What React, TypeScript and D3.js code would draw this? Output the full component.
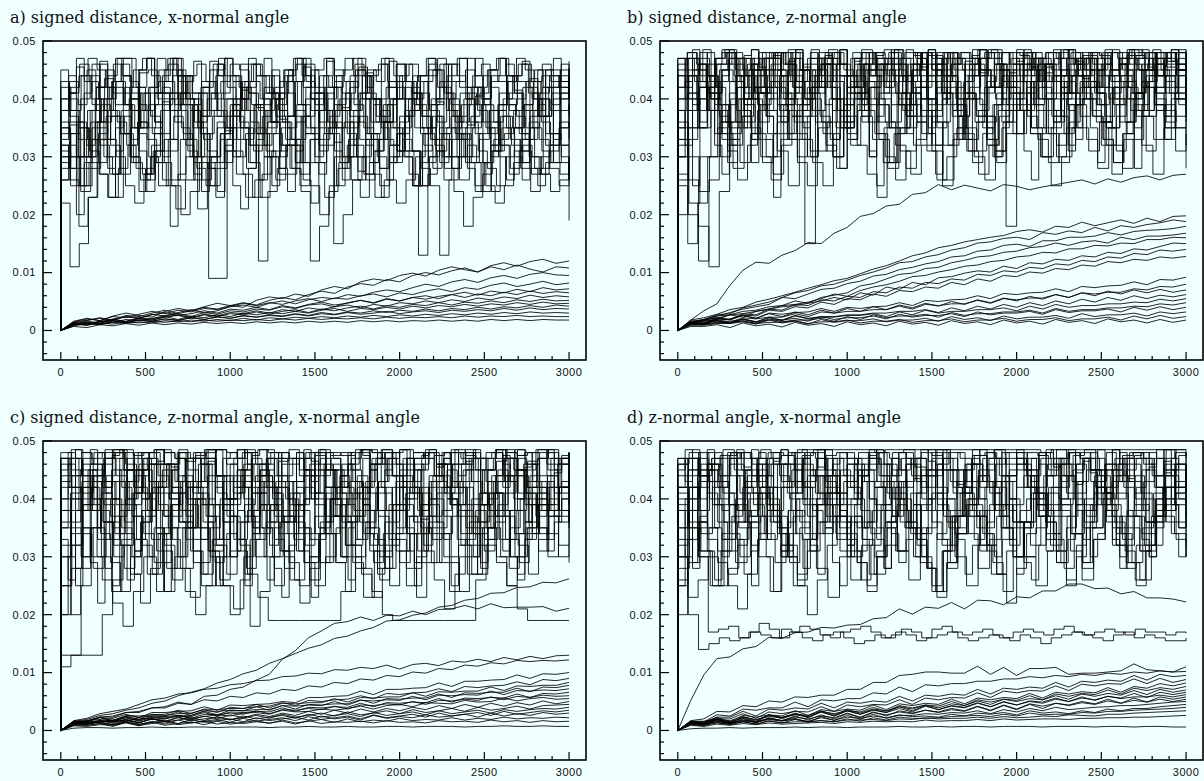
import React from 'react';
import * as d3 from 'd3';

const W = 1204;
const H = 781;
// every trace value below is in units of 0.0001
const UNIT = 0.0001;
const X_MAX = 3000;
const X_TICKS = [0, 500, 1000, 1500, 2000, 2500, 3000];
const Y_TICKS = [0, 0.01, 0.02, 0.03, 0.04, 0.05];
const Y_LABELS = ['0', '0.01', '0.02', '0.03', '0.04', '0.05'];
const TITLES = [
  'a) signed distance, x-normal angle',
  'b) signed distance, z-normal angle',
  'c) signed distance, z-normal angle, x-normal angle',
  'd) z-normal angle, x-normal angle',
];

// ---- panel a ----
const A_STEP = [
  [340,355,300,300,420,435,410,410,380,445,450,400,400,360,330,390,420,465,440,440,400,350,310,370,400,430,430,390,350,300,340,380,380,420,455,410,370,330,290,350,400,440,460,420,380,340,300,350,390,430,440,400,370,330,380,420,450,430,400],
  [300,260,180,230,330,370,370,340,290,270,320,380,410,390,330,280,250,290,340,380,420,390,340,300,270,270,330,370,410,380,350,300,260,230,290,330,390,430,400,350,320,280,340,370,410,360,310,280,250,300,350,390,350,310,290,270,300],
  [360,420,460,430,400,440,470,470,420,380,410,450,470,440,400,370,410,430,460,450,410,380,350,390,430,460,440,410,380,420,450,470,440,400,370,400,440,460,430,390,360,400,430,450,420,390,360,400,440,460,430,400,380,420,450],
  [220,110,150,230,290,330,300,250,220,270,310,290,250,200,240,290,90,90,310,270,230,260,300,340,320,280,240,120,180,240,280,320,300,270,230,260,300,330,310,280,250,130,260,300,320,290,250,220,250,290,320,300,270,240,260,300],
  [320,380,350,300,360,400,430,390,350,410,410,410,410,410,410,410,410,380,350,300,340,390,420,400,360,330,370,410,440,420,380,340,300,260,310,360,400,430,410,370,330,290,330,370,410,390,350,310,340,380,420,400,360,320,350,390],
  [290,340,400,440,420,380,340,300,350,390,430,460,430,390,350,310,280,330,380,420,440,410,370,330,290,340,380,420,450,430,390,350,310,360,400,430,410,370,330,300,350,390,420,400,360,320,280,330,370,410,440,420,380],
  [350,300,250,290,340,380,360,320,280,240,290,330,370,340,300,260,300,340,380,360,320,120,240,280,320,360,400,380,340,150,200,260,300,340,380,350,310,270,130,270,310,350,330,290,250,290,330,370,350,310,270,300,340,380,190],
  [380,410,440,470,450,420,390,420,450,470,440,410,380,410,440,460,430,400,370,400,430,460,440,410,380,350,390,420,450,470,440,410,380,410,440,460,430,400,370,400,430,450,420,390,360,390,420,450,470,440,410,380,410,440,430,400,420],
  [260,300,350,310,270,230,280,320,360,330,290,250,210,260,300,340,380,350,310,270,230,270,310,350,330,290,250,200,250,290,330,370,340,300,260,220,260,300,340,320,280,240,180,230,270,310,350,320,280,240,280,320,360,330],
  [400,370,330,380,420,450,430,390,350,380,420,450,470,440,400,360,330,370,410,440,420,380,340,380,420,450,430,390,350,310,350,390,430,460,440,400,360,320,360,400,440,470,450,410,370,330,370,410,450,430,390,350,390,430,460,440,410,380],
  [310,280,240,280,330,370,340,300,260,300,340,380,410,380,340,300,330,370,400,430,400,360,320,280,250,290,330,370,400,370,330,290,250,300,340,380,410,380,340,300,260,300,340,380,410,380,340,300,270,310,350,390],
  [430,400,360,320,360,400,430,460,430,390,350,390,430,470,440,400,360,400,440,470,440,400,360,320,360,400,440,470,440,400,360,400,440,470,440,400,360,400,430,460,430,390,350,390,430,460,440,400,360,400,440,470,440,400,430,450,420,390,410,440],
  [330,410,455,300,380,465,330,350,440,290,420,470,360,395,310,450,400,270,430,380,460,345,300,415,470,385,320,440,365,410,290,455,400,350,470,325,385,430,275,445,400,360,465,310,420,380,340,450,395,300,430,470,355,405,440,320,380,460,415,290,435,370,450,330,400,465],
  [280,360,250,330,400,300,270,380,420,340,260,310,390,440,350,300,410,280,230,350,430,380,320,260,340,400,450,370,290,330,410,360,250,300,380,440,330,280,360,420,310,250,340,400,460,380,300,350,420,290,240,330,390,430,350,280,370,410,320,260],
  [400,430,390,450,420,380,460,440,400,350,420,470,430,390,440,410,370,450,470,420,380,430,460,400,360,410,450,470,430,390,440,420,380,350,410,450,430,470,440,400,420,380,440,470,410,360,400,440,460,420,390,430,470,450,400,370,420,450,410],
  [350,250,300,380,320,270,340,400,360,300,250,330,380,310,210,290,350,400,330,280,350,310,260,320,380,340,290,230,300,360,320,270,330,390,350,300,250,310,370,330,280,340,290,240,310,370,330,290,350,400,340,290,260],
  [420,380,440,400,360,430,470,410,380,340,410,450,390,350,420,460,400,370,330,390,440,410,370,430,460,420,380,350,410,450,400,360,420,460,430,390,350,400,440,470,420,380,340,390,430,460,410,370,420,440,400],
  [300,340,280,360,390,320,270,350,410,370,310,260,330,380,300,250,340,390,350,290,230,300,360,320,270,330,380,340,290,360,400,340,280,320,370,310,250,300,350,400,340,290,330,380,320,270,310,360,330,280,250,290],
  [380,440,300,410,460,350,280,420,390,330,450,470,360,300,400,440,320,260,380,430,370,290,350,460,410,340,390,450,300,370,430,470,380,320,410,360,280,400,450,340,390,460,420,310,370,440,350,290,400,460,380,330,420,470,360,300,390,440,410,340,380,450,320,400,460,370],
  [320,280,360,250,330,380,300,230,340,400,310,270,350,420,330,260,300,380,340,280,240,320,390,350,290,330,410,360,280,240,310,370,340,270,320,390,350,300,260,330,400,350,290,340,380,310,250,300,370,330,280,350,400,340,290,320,380,350,300,260,330,390,340,290,320,360],
  [450,410,470,430,390,460,420,470,440,380,450,470,410,440,470,400,430,465,420,380,450,470,430,400,460,440,470,410,380,440,470,420,450,400,465,430,380,440,470,420,450,470,400,430,460,410,440,470,390,430,460,420,470,440,400,450,470,410,440,465,420,380,450,470,430,455],
  [260,320,200,290,350,270,230,310,370,300,240,280,340,260,180,270,330,290,240,300,360,310,250,210,280,340,300,250,310,370,320,260,220,290,350,310,260,300,360,320,270,230,290,340,300,250,290,350,310,260,300,340,280,240,290,350,300,260,310,330,280,250,290,340,300,270],
];
const A_SMOOTH = [
  [0,16,21,17,25,30,26,23,33,38,34,41,47,43,40,52,58,55,63,59,70,76,72,84,89,86,95,99,94,104,110,105,101,112,117,111,119,123,116,120],
  [0,13,17,22,18,26,24,30,35,29,34,40,37,43,48,44,52,57,53,62,68,64,75,81,78,88,84,95,100,96,103,108,101,110,105,113,106,101,110,108],
  [0,11,16,13,20,24,21,28,25,31,36,30,34,41,44,40,47,51,46,53,57,55,62,59,66,70,67,74,80,76,84,88,83,91,95,90,97,100,96,95],
  [0,15,20,17,24,22,28,33,29,35,32,38,36,42,47,43,48,45,51,55,50,56,54,60,63,58,65,62,68,72,67,74,71,78,82,76,80,85,79,82],
  [0,10,14,12,19,16,22,20,26,29,24,31,28,34,32,37,35,41,38,44,46,41,48,52,47,54,51,57,60,55,62,66,61,68,65,71,67,74,70,72],
  [0,14,18,21,17,24,21,27,31,26,29,34,30,37,35,40,36,43,39,45,49,44,47,52,48,55,51,57,54,59,62,57,63,60,66,62,68,64,67,65],
  [0,12,9,16,19,15,21,18,24,27,22,28,25,31,29,34,30,36,33,39,36,41,44,39,45,42,48,46,51,48,53,50,56,53,58,55,61,57,60,58],
  [0,11,14,10,17,15,20,18,23,26,21,27,24,29,27,32,28,33,36,31,37,34,39,42,37,43,40,45,43,48,44,49,47,51,48,53,50,54,51,52],
  [0,13,11,16,14,19,17,21,24,19,25,22,27,24,30,27,31,29,33,30,35,38,33,38,36,40,37,42,39,43,41,45,42,46,44,48,45,49,46,47],
  [0,9,13,11,15,13,18,16,20,17,22,19,24,21,26,23,27,25,29,26,31,28,32,30,34,31,35,33,37,34,38,36,40,37,41,39,43,40,44,42],
  [0,13,10,15,17,13,18,16,20,18,22,19,23,21,25,23,26,24,28,25,29,27,31,28,30,33,29,32,34,31,35,33,36,34,38,35,39,36,38,37],
  [0,8,12,10,14,12,15,13,17,15,18,16,19,17,21,18,22,20,23,21,24,22,25,23,26,24,27,25,28,26,29,27,30,28,31,29,32,30,31,30],
  [0,11,9,13,11,15,13,16,14,17,15,18,16,18,17,19,17,20,18,21,19,21,20,22,20,23,21,23,22,24,22,25,23,25,24,26,24,25,24,24],
  [0,7,5,10,8,12,9,13,10,13,11,14,12,14,12,15,13,15,13,16,14,16,14,17,15,17,15,17,16,18,16,18,16,19,17,19,17,19,18,18],
];

// ---- panel b ----
const B_STEP = [
  [350,200,120,260,380,430,470,450,410,460,480,440,400,450,470,430,390,420,460,480,450,410,370,420,460,480,440,400,440,470,480,450,410,380,430,470,450,410,440,480,460,420,390,430,470,480,440,410,450,470],
  [300,410,460,440,390,350,400,450,470,430,380,330,390,440,460,420,370,320,370,420,460,480,440,390,340,380,430,470,450,400,350,300,360,410,450,470,430,380,340,390,440,470,440,400,360,410,450,480,450,420,440],
  [420,470,440,400,460,480,450,420,470,480,460,430,470,480,470,440,470,485,460,430,470,480,470,440,460,480,470,450,470,485,480,460,440,470,480,470,440,460,480,475,450,470,485,470,450,465,480,470],
  [250,150,220,300,350,310,260,320,380,420,390,340,290,250,310,360,400,370,320,270,230,290,340,390,360,310,260,300,350,400,370,330,290,340,390,420,380,340,300,350,400,430,390,350,310,360,410,440,400,380,350,390],
  [380,440,470,430,390,340,400,450,470,440,400,360,150,380,430,460,440,400,360,410,450,470,440,400,360,320,380,430,460,440,400,180,380,430,460,480,450,410,370,420,460,480,450,410,380,420,460,480,460],
  [200,330,400,380,340,290,350,400,440,410,370,330,380,420,450,420,380,340,390,430,460,430,390,350,400,440,460,430,390,350,310,360,410,450,430,390,350,400,440,470,440,400,360,320,370,420,450,420,380,360,400,430],
  [440,400,350,410,450,430,390,340,300,360,410,450,470,440,400,360,410,450,470,440,400,370,420,460,480,450,410,370,330,380,430,460,440,400,360,410,450,470,440,400,360,410,450,470,440,400,360],
  [320,260,180,110,240,330,380,350,300,260,320,370,410,380,340,300,350,400,430,400,360,320,280,330,380,420,390,350,310,270,320,370,410,380,340,300,250,300,350,400,370,330,290,330,380,420,390,350,310,340],
  [460,480,450,420,460,480,470,440,410,450,480,460,430,400,440,470,480,450,420,460,480,470,440,410,450,480,470,440,460,480,470,450,420,460,480,475,450,430,460,480,470,440,420,450,480,470,450,470,480,470,455,480,470],
  [270,350,420,400,360,320,370,420,450,420,380,340,300,350,400,440,410,370,330,290,340,390,430,400,360,320,370,420,450,420,380,340,380,430,460,430,390,350,310,360,410,440,410,370,330,370,410,430],
  [400,450,420,380,430,470,440,400,360,400,440,470,450,410,370,330,380,430,460,440,400,360,410,450,480,450,410,370,330,290,340,390,430,460,430,390,350,400,440,470,450,410,370,420,460,480,450,410,440,460,430],
  [360,300,240,300,360,400,370,330,290,340,390,430,400,360,320,280,330,380,420,390,350,310,270,320,370,410,380,340,300,260,310,360,400,370,330,290,340,390,430,400,360,320,280,330,380,420,390,350,320],
  [470,440,400,440,470,480,450,410,440,470,480,460,420,380,420,460,480,460,420,380,420,460,480,460,430,460,480,470,440,400,440,470,480,460,420,450,480,470,440,410,450,480,470,450,420,450,480,470,450,460,480,470,450,470],
  [330,380,430,410,370,330,290,340,390,430,410,370,330,290,250,300,350,400,380,340,300,260,310,360,400,440,410,370,330,380,420,450,420,380,340,300,350,400,440,410,370,330,290,340,390,430,460,430,400,280],
  [380,470,430,485,400,450,480,360,440,470,410,480,450,390,470,430,485,420,460,350,440,480,400,470,450,420,485,380,460,440,475,410,480,430,370,460,485,420,450,400,470,440,480,390,460,430,485,410,470,450,420,480,440,460,400,475,430,485,450,410,470,440],
  [300,410,350,440,380,320,420,460,390,340,450,400,300,370,430,470,380,330,410,450,360,290,390,440,470,400,350,420,380,310,360,430,460,390,340,410,450,380,320,400,440,470,410,350,390,430,370,310,380,440,460,400],
  [450,480,460,420,470,485,440,400,460,480,470,430,480,450,410,470,485,460,420,450,480,440,470,485,430,460,480,450,410,460,480,470,440,485,460,420,470,480,450,430,470,485,460,440,480,470,430,460,485,450,470,440,480,460,485],
  [260,350,420,380,300,360,440,400,330,270,340,410,450,380,310,360,420,460,390,330,290,350,410,380,320,250,330,400,440,370,310,380,430,460,400,340,290,360,420,380,320,270,340,400,450,390,330,370,420],
  [400,440,380,460,420,360,440,470,410,380,450,480,420,370,430,460,400,350,420,470,440,390,350,410,460,480,430,390,440,470,410,360,420,460,430,380,450,480,420,370,410,450,470,430,390,440,470,420,380,430,460,480,440,400],
  [330,220,300,380,340,280,360,420,380,310,250,330,400,360,300,390,440,400,340,280,350,410,370,310,260,340,410,380,320,390,440,410,350,300,370,430,390,330,280,350,420,380,320,270,350,410,390],
  [470,420,485,450,380,460,480,430,470,400,485,455,420,475,440,485,390,460,480,430,470,450,485,410,465,480,440,470,420,485,460,400,475,450,485,430,470,480,410,460,485,445,470,420,480,460,485,430,470,400,455,480,440,485,465,420,475,450,480,430,470,485,410,460,480,440,470,485,450,470],
  [350,430,390,460,410,340,440,470,380,420,330,450,400,470,360,430,480,390,310,420,460,380,440,350,470,410,300,430,460,390,440,370,480,420,350,450,400,470,330,430,460,390,420,480,360,440,400,470,350,420,460,380,440,310,410,470,430,390,460,350,440,480,400,430,370,460,420,480,390,440],
  [420,470,450,480,440,470,485,460,430,475,485,450,470,480,440,465,485,455,430,470,480,460,485,440,470,480,450,475,485,460,430,470,480,455,485,440,470,480,460,430,475,485,450,470,480,445,465,485,455,470,480,440,470,485,460,475,480,450,470,485,460,440,475,485,455,470,480,465,485,470],
  [300,380,250,350,420,320,270,390,440,350,290,410,370,230,330,400,450,360,300,380,430,340,280,360,420,390,310,250,350,410,450,380,320,400,340,270,360,430,390,330,400,450,370,300,350,420,380,310,260,340,410,440,370,320,390,430,350,290,360,420,400,340,280,370,430,390,330,400,440,380],
  [440,400,470,430,480,410,450,485,420,390,460,480,440,470,400,450,485,430,460,410,475,440,485,400,460,430,480,450,410,470,440,485,420,460,390,475,450,480,420,465,440,485,410,470,450,430,480,460,400,470,445,485,420,460,480,435,470,410,485,450,430,475,460,420,480,440,470,485,450,460],
  [380,320,400,360,440,390,330,410,460,380,340,420,370,300,390,440,400,350,420,470,390,330,380,440,410,360,300,370,430,460,390,340,410,450,380,320,400,440,370,430,470,410,350,390,440,400,340,380,430,460,400,360,420,380,330,400,450,410,360,420,460,400,350,390,440,410,370,420,450,400],
];
const B_SMOOTH = [
  [0,18,34,46,78,104,118,116,130,138,152,150,168,178,197,202,215,218,235,238,252,243,251,246,241,252,249,243,248,252,256,260,253,262,256,264,267,260,268,270],
  [0,18,22,28,36,40,49,54,60,66,73,79,86,90,98,106,112,120,129,134,143,147,153,157,161,164,171,174,170,180,178,187,181,186,191,185,194,188,197,198],
  [0,14,19,27,29,39,44,49,57,65,69,77,80,87,95,101,108,117,119,127,131,139,143,151,153,159,161,157,169,166,172,169,178,172,181,178,183,186,191,188],
  [0,12,17,25,31,37,41,45,57,55,63,71,73,81,85,94,97,105,109,115,119,127,129,137,139,147,149,145,155,155,161,161,163,169,165,171,173,174,176,180],
  [0,16,19,25,27,33,35,41,43,51,47,57,61,65,77,81,89,97,99,107,109,117,121,127,129,135,137,143,145,151,147,153,155,151,161,157,163,163,165,168],
  [0,13,17,19,27,29,33,37,43,45,49,55,63,59,69,75,79,85,93,95,101,105,111,113,119,121,127,129,135,134,141,141,147,146,151,150,157,157,161,160],
  [0,11,19,21,27,23,33,37,41,43,47,51,57,53,65,61,75,71,83,79,91,93,99,103,101,111,107,117,115,123,121,129,127,135,133,141,139,145,151,150],
  [0,11,13,21,19,29,27,37,35,45,43,53,51,59,57,67,65,75,73,83,81,89,87,97,95,103,101,109,107,115,113,121,119,127,125,133,131,139,137,140],
  [0,13,11,21,19,27,25,35,33,41,39,49,45,55,53,63,59,69,67,75,73,83,79,89,85,95,93,101,99,107,105,113,111,119,117,123,121,127,125,128],
  [0,14,16,18,20,26,21,30,28,31,32,38,33,40,38,41,42,48,43,52,50,53,54,60,55,64,62,65,66,72,67,76,74,77,78,84,79,88,87,92],
  [0,12,12,19,14,22,20,23,23,29,24,32,30,33,33,36,36,42,37,45,43,46,46,52,47,55,53,56,56,62,57,65,63,66,66,72,70,76,75,80],
  [0,16,17,23,18,26,21,29,24,32,27,35,30,38,33,41,36,44,39,47,42,50,45,53,48,56,51,59,54,62,57,65,60,68,63,70,65,71,66,70],
  [0,10,11,17,12,20,15,23,18,26,21,24,24,27,27,30,30,33,33,36,31,39,34,42,37,45,40,48,43,51,46,54,49,57,52,60,55,61,58,62],
  [0,13,13,16,16,19,14,22,17,25,20,23,23,26,26,29,24,32,27,35,30,33,33,36,36,39,34,42,37,45,40,43,43,46,46,49,48,54,51,55],
  [0,11,11,14,14,17,12,20,15,18,18,21,16,24,19,27,22,25,25,28,23,31,26,29,29,32,32,35,30,38,33,36,36,39,39,42,41,46,44,48],
  [0,15,14,17,12,20,15,18,18,21,16,24,19,22,22,25,20,28,23,26,26,29,24,32,27,30,30,33,28,36,31,34,34,37,32,40,35,41,36,40],
  [0,9,9,12,12,15,11,18,13,16,11,19,14,17,17,20,15,18,18,21,16,24,19,22,17,25,20,23,23,26,21,29,24,27,27,30,25,32,29,32],
  [0,12,10,13,13,16,12,14,14,17,12,15,15,18,13,16,16,19,14,17,17,20,15,18,18,21,16,19,19,22,17,20,20,23,18,25,20,26,21,24],
  [0,7,7,10,5,13,8,11,6,14,9,12,7,15,10,13,8,16,11,14,9,17,12,15,10,18,13,16,11,19,14,17,12,20,15,18,13,19,14,18],
];

// ---- panel c ----
const C_STEP = [
  [430,470,440,400,460,480,450,420,470,485,460,430,470,480,470,440,470,485,460,430,470,480,470,440,460,480,470,450,470,485,480,460,440,470,480,470,440,460,480,475,450,470,485,470,450,465,480,470,460,480],
  [110,130,250,380,430,400,350,300,360,420,450,410,360,310,270,330,390,430,400,350,300,250,310,370,420,390,340,290,240,300,360,410,380,330,280,230,290,350,400,370,320,270,330,390,440,410,360,310,370,420,390],
  [380,440,470,430,390,340,400,450,470,440,400,360,420,460,430,380,330,390,440,470,440,400,350,300,360,420,460,430,380,330,280,340,400,450,480,440,390,340,400,450,470,430,380,330,390,440,470,440],
  [350,200,280,350,400,370,320,270,220,280,340,390,430,400,350,300,250,200,260,330,390,360,310,260,220,280,340,400,440,410,360,310,260,320,380,420,390,340,290,240,300,360,410,380,330,280,340,400,430,400,360,390],
  [460,420,380,430,470,485,450,410,370,420,460,480,450,410,370,330,390,440,470,440,400,360,410,450,480,450,410,370,330,380,430,470,485,450,410,370,420,460,480,450,410,370,330,380,430,470,450,410,440],
  [300,360,420,390,340,290,240,300,360,410,380,330,280,230,290,350,400,370,320,180,240,300,360,410,380,330,290,340,390,430,400,350,300,250,310,370,420,390,340,290,240,300,360,410,380,330,290,340,390,420,380,350],
  [480,450,410,440,470,480,460,420,380,420,460,480,470,430,390,430,470,485,460,420,380,340,390,440,470,450,410,370,420,460,480,460,420,380,420,460,480,470,430,390,430,470,485,460,420,380,420,460],
  [130,130,130,130,200,260,320,370,340,290,240,300,350,400,370,320,270,330,380,420,390,340,290,250,300,350,400,370,320,270,230,280,340,390,360,310,260,210,270,330,380,350,300,250,300,350,400,370,320,290],
  [400,350,300,350,410,450,420,370,320,270,330,390,440,410,360,310,360,420,460,430,380,330,280,340,400,450,420,370,320,370,430,470,440,390,340,290,350,410,450,420,370,320,370,430,470,440,390,340,380,420,450],
  [250,320,390,440,470,440,400,450,480,460,420,380,430,470,485,460,420,380,340,390,440,470,450,410,370,420,460,480,460,420,380,430,470,485,460,420,380,340,390,440,470,450,410,370,420,460,480],
  [360,410,450,420,380,330,380,430,460,430,390,350,300,350,400,440,410,370,330,280,330,380,430,400,360,320,370,420,450,420,380,340,290,340,390,440,410,370,330,380,430,460,430,390,350,300,350,400,440,410,380,420,450],
  [470,485,480,470,480,485,480,475,480,485,480,470,465,475,480,485,480,470,480,485,480,470,460,470,480,485,480,475,480,485,480,470,480,485,480,470,475,480,485,480,470,480,485,480,475,480,485,480,470,480],
  [200,280,340,300,260,220,180,240,300,350,320,280,240,200,250,300,340,310,270,230,190,190,190,190,190,190,190,240,300,280,240,200,190,190,190,190,190,190,190,190,260,320,290,250,210,190,190,190,190,190],
  [320,380,430,400,360,320,280,330,380,430,460,430,390,350,310,260,310,360,410,440,410,370,330,290,250,300,350,400,440,410,370,330,290,340,390,430,460,430,390,350,310,360,410,450,420,380,340,300,350],
  [420,470,380,450,300,440,480,360,410,470,330,460,400,485,350,430,470,290,440,410,480,370,450,320,470,430,390,480,340,460,420,300,450,485,380,430,470,350,410,460,320,440,480,390,430,470,360,450,410,485,340,460,430,380,470,420,480],
  [250,340,420,380,300,240,330,410,450,380,310,260,350,420,390,320,250,210,300,380,430,370,300,260,340,410,450,390,320,280,350,420,380,310,250,300,370,430,400,330,270,340,400,450,380,320,270,330,390,420,360],
  [470,440,480,460,420,470,485,450,410,460,480,470,430,470,485,440,400,450,480,460,420,465,485,450,410,440,475,480,450,420,470,485,460,430,470,480,440,410,460,485,470,430,465,480,450,420,470,485,460,440],
  [380,320,400,450,360,300,380,440,400,340,280,350,420,460,390,330,400,450,410,350,300,370,430,470,400,340,290,360,420,380,320,390,450,410,350,290,340,410,450,390,330,380,440,470,410,350,300,370,420],
  [300,400,350,280,360,430,390,330,270,340,410,380,310,250,330,400,440,370,300,360,420,380,310,260,340,400,360,290,230,310,380,430,370,310,360,420,390,320,270,350,410,370,300,350,410,440,380,320],
  [440,400,460,480,430,390,450,480,460,410,370,430,470,485,440,400,360,420,460,480,430,390,440,475,450,400,360,410,460,485,440,400,450,480,460,420,380,430,470,480,440,400,450,485,460,420,440],
  [470,420,485,380,460,440,485,350,470,430,480,400,460,485,370,450,480,420,470,330,460,485,440,400,470,480,350,450,485,420,460,390,480,470,430,485,360,460,440,480,410,470,485,380,450,480,420,470,340,460,485,430,470,400,480,460,485,390,450,480,420,470,485,360,460,440,480,410,470,480],
  [330,260,380,300,420,350,280,400,450,340,270,380,430,310,240,350,410,370,290,330,400,440,360,300,380,250,340,410,450,380,310,360,420,290,230,330,400,370,300,350,430,390,320,270,360,420,380,310,250,340,400,440,370,300,390,420,340,280,350,410,380,300,260,360,420,390,330,380,430,390],
  [450,480,470,440,485,460,420,475,485,450,470,480,430,465,485,455,410,470,480,460,485,440,470,480,450,420,475,485,460,440,480,470,430,485,465,450,480,470,420,460,485,475,450,470,480,440,485,460,430,475,480,455,470,485,440,465,480,470,450,485,460,430,475,480,460,470,485,450,475,480],
  [200,300,250,350,290,220,330,400,340,260,310,380,300,240,350,420,360,280,330,390,310,250,300,370,330,270,360,410,350,280,230,320,390,350,290,340,410,370,300,260,330,390,340,280,310,380,420,350,290,340,400,360,300,250,320,380,340,290,350,410,370,300,270,330,390,350,310,360,400,350],
  [400,460,420,380,450,480,410,360,430,470,390,440,480,420,370,450,470,400,350,420,465,440,390,460,485,430,380,440,470,410,360,430,480,450,400,460,420,370,440,475,430,390,450,480,410,380,440,470,420,365,430,460,480,430,390,450,470,410,380,440,475,430,400,455,480,420,390,445,470,430],
  [350,420,280,390,440,330,400,250,370,430,310,400,460,350,290,380,440,330,400,270,360,420,380,300,410,450,340,390,260,350,420,370,310,400,440,350,290,370,430,390,320,400,460,380,300,360,420,340,280,380,440,400,330,370,420,350,300,390,430,370,310,380,440,390,340,400,430,370,400,420],
];
const C_SMOOTH = [
  [0,16,19,26,29,35,39,47,51,60,66,72,82,88,98,104,116,124,133,142,148,159,163,172,178,189,191,199,203,213,216,225,228,237,238,247,248,256,255,262],
  [0,14,17,23,25,31,33,39,41,49,45,59,61,71,75,87,97,123,138,160,172,185,188,196,190,199,198,206,200,209,210,216,210,219,212,213,213,214,206,211],
  [0,17,21,29,33,37,45,53,56,63,65,71,73,79,81,86,87,93,94,99,98,105,104,109,107,113,106,114,116,112,120,118,123,119,126,122,128,124,129,130],
  [0,13,15,23,23,31,31,39,39,47,45,53,51,59,57,65,63,71,69,77,75,83,81,89,87,95,93,101,99,107,105,113,111,117,115,121,119,121,120,122],
  [0,15,17,19,21,28,22,31,31,33,34,41,35,44,43,45,46,50,48,57,57,59,60,68,62,71,71,73,74,82,76,85,85,87,88,96,90,98,97,100],
  [0,12,14,16,18,24,19,28,26,29,30,36,31,40,38,41,42,48,43,52,50,53,54,60,55,64,62,65,66,72,67,76,74,77,78,84,79,88,86,90],
  [0,16,16,23,17,26,25,27,28,35,29,37,36,38,38,45,39,47,46,48,48,55,49,57,56,58,58,65,59,67,66,68,68,75,69,77,76,78,78,83],
  [0,11,13,15,16,23,17,25,24,26,26,33,27,35,34,36,36,43,37,45,44,46,46,53,47,55,54,56,56,63,57,65,64,66,66,73,67,75,74,78],
  [0,14,15,22,16,24,23,25,25,32,26,34,33,35,34,41,35,43,42,44,43,50,44,52,51,53,52,59,53,61,60,62,61,68,62,69,68,70,69,72],
  [0,13,12,15,15,22,16,23,22,24,24,31,25,32,31,33,32,39,33,40,39,41,40,47,41,48,47,49,48,55,49,56,55,57,56,63,57,64,63,66],
  [0,10,13,18,12,20,19,22,20,26,21,28,27,30,28,34,29,36,35,38,36,42,37,44,43,46,44,50,45,52,51,54,52,58,53,59,57,61,59,60],
  [0,15,14,16,18,15,22,19,20,26,21,24,27,25,30,31,28,35,32,33,37,35,38,42,37,43,45,41,48,47,46,52,49,50,56,51,55,57,54,55],
  [0,12,10,17,14,19,14,21,16,23,18,25,20,27,22,28,24,30,26,33,28,35,30,37,32,38,34,40,36,43,38,45,40,47,42,48,44,51,46,50],
  [0,11,12,15,10,18,13,20,15,18,22,17,24,19,22,26,21,28,23,26,30,25,32,27,30,34,29,36,31,34,38,33,40,35,38,42,37,43,44,45],
  [0,14,13,16,15,18,13,20,15,22,17,20,23,18,25,20,23,26,21,28,23,26,29,24,31,26,29,32,27,34,29,32,35,30,36,33,36,38,37,40],
  [0,9,9,12,10,15,10,16,11,18,13,16,19,14,21,16,19,22,17,24,19,22,25,20,27,22,25,28,23,30,25,28,31,26,33,28,31,34,32,35],
  [0,12,11,14,9,16,11,14,17,12,19,14,17,20,15,22,17,20,23,18,25,20,23,18,26,21,24,22,27,23,25,28,23,30,25,29,26,31,28,30],
  [0,8,7,10,9,13,8,14,9,12,15,10,16,11,14,17,12,18,13,16,19,14,20,15,18,16,21,17,19,18,22,18,21,19,23,20,22,21,23,22],
  [0,10,9,12,7,14,9,12,15,10,13,16,11,14,12,15,13,16,11,17,12,15,14,16,13,17,14,15,13,17,15,16,14,18,15,17,14,17,15,16],
  [0,4,5,5,4,5,5,6,5,5,6,6,5,6,6,6,5,6,6,7,6,6,7,6,6,7,7,6,7,7,7,6,7,7,8,7,7,8,7,7],
];

// ---- panel d ----
const D_STEP = [
  [420,450,480,460,440,470,480,470,485,470,475,480,485,485,485,485,485,485,485,480,485,485,485,485,485,485,485,485,485,485,485,485,485,485,485,480,485,485,485,485,485,485,485,485,485,485,485,485,485,485],
  [300,200,140,150,160,155,160,170,165,160,175,170,160,155,165,170,160,150,155,165,160,170,165,155,160,165,170,160,155,160,165,160,155,165,160,150,160,165,170,165,160,155,165,170,160,165,160,155,155,160],
  [250,420,300,170,175,180,160,170,185,175,160,170,180,175,165,160,170,175,180,170,160,165,175,170,160,175,180,170,165,170,175,165,160,170,175,170,165,175,180,170,165,170,175,170,165,175,170,170,165,170,168],
  [380,440,470,430,390,340,300,360,420,460,430,380,330,390,440,470,440,400,350,300,360,420,460,430,380,330,280,340,400,450,420,370,320,380,440,470,440,390,340,290,350,410,450,420,370,320,380,440,460,430],
  [300,230,260,300,250,280,330,380,420,390,340,290,350,400,440,410,360,310,260,320,380,430,400,350,300,250,310,370,420,390,340,290,240,300,360,410,380,330,280,340,400,440,410,360,310,260,320,380,420,400,360],
  [460,420,380,430,470,480,450,410,370,420,460,480,450,410,370,330,390,440,470,440,400,360,410,450,480,450,410,370,330,380,430,470,480,450,410,370,420,460,480,450,410,370,330,380,430,470,450,410,440],
  [200,290,360,330,290,250,210,270,330,380,350,300,250,200,260,320,370,340,290,240,300,360,410,380,330,280,230,290,350,400,370,320,270,220,280,340,390,360,310,260,320,380,420,390,340,290,250,310,370,400,360,330],
  [440,470,440,400,440,470,480,460,420,380,420,460,480,470,430,390,430,470,480,460,420,380,340,390,440,470,450,410,370,420,460,480,460,420,380,420,460,480,470,430,390,430,470,480,460,420,380,420,460],
  [350,400,440,410,360,310,360,410,450,420,370,320,270,330,390,440,410,360,310,360,420,460,430,380,330,280,340,400,450,420,370,320,370,430,470,440,390,340,290,350,410,450,420,370,320,370,420,450,420,380,410,440],
  [410,360,310,250,310,370,420,390,340,290,340,400,440,410,360,310,260,320,380,430,400,350,300,350,410,450,420,370,320,270,330,390,440,410,360,310,370,430,470,440,390,340,290,350,410,450,420,370],
  [320,380,430,460,430,390,350,400,440,470,440,400,360,310,360,410,450,420,380,340,390,440,470,440,400,360,320,370,420,460,430,390,350,300,350,400,440,470,440,400,360,410,450,470,440,400,360,400,440,460,430],
  [470,450,420,450,475,480,470,440,460,480,475,450,420,450,475,480,470,440,460,480,470,450,470,480,475,450,420,450,475,480,470,440,460,480,475,450,470,480,470,450,420,450,475,480,470,440,460,480,470],
  [260,330,380,350,310,270,320,370,410,380,340,300,260,310,360,400,370,330,290,250,300,350,390,360,320,280,240,290,340,380,350,310,270,310,360,400,370,330,290,250,300,350,390,360,320,280,320,360,390,360,330,300],
  [390,350,300,350,400,440,410,370,330,380,420,450,420,380,340,390,430,460,430,390,350,310,360,410,450,420,380,340,390,440,470,440,400,360,320,370,420,460,430,390,350,400,440,470,440,400,360,400,430,410],
  [400,470,350,450,420,480,380,440,470,330,460,410,485,370,440,470,400,460,350,430,480,410,450,380,470,440,485,360,430,460,400,480,420,350,450,470,390,440,485,410,460,370,430,480,400,450,470,360,440,485,420,460],
  [300,380,340,420,360,290,350,410,380,320,250,330,400,440,370,300,360,420,380,310,260,340,410,370,300,250,320,390,430,360,300,350,410,380,310,260,330,400,440,370,310,360,420,390,320],
  [460,480,440,470,485,450,420,470,480,460,430,475,485,450,410,460,480,470,440,480,485,455,420,460,480,470,430,470,485,460,420,450,480,470,440,475,485,450,420,460,480,470,440,470,485,460],
  [350,420,460,390,330,400,450,420,360,300,370,430,470,410,350,400,450,420,360,310,380,440,470,400,340,390,440,410,350,300,360,420,460,400,340,380,430,460,410,350,310,370,420,450,390],
  [420,380,450,470,410,360,430,460,400,350,410,460,440,390,340,400,450,470,420,370,430,470,440,390,350,410,460,430,380,440,470,420,370,320,390,450,470,420,380,430,460,410,370,420,460,440],
  [280,350,310,250,330,390,360,300,240,310,380,340,280,230,300,370,330,270,320,380,350,290,240,310,370,340,280,330,390,360,300,250,310,370,340,280,330,380,350,290,260,320,370,340,300],
  [470,430,485,400,460,480,420,470,380,450,485,430,470,360,460,480,410,470,440,485,390,460,480,420,470,350,450,485,430,470,400,480,460,420,485,380,470,450,480,410,460,485,430,470,370,450,480,420,470,400,485,460,430,480,390,470,450,485,410,460,480,430,470,380,455,485,440,470,420,480],
  [330,400,280,370,430,350,300,390,440,360,250,340,410,380,310,360,430,390,320,270,350,420,380,300,360,440,400,330,280,370,430,350,300,380,450,400,330,290,370,420,380,310,360,430,390,330,270,350,410,370,310,380,440,400,340,290,360,420,380,320,370,430,390,330,300,370,420,390,350,400],
  [450,485,470,440,480,460,430,475,485,455,470,480,440,465,485,460,420,470,480,455,485,440,470,480,450,430,475,485,460,440,480,470,435,485,465,450,480,470,425,460,485,475,450,470,480,440,485,460,430,475,480,455,470,485,445,465,480,470,450,485,460,435,475,480,460,470,485,450,475,480],
  [380,300,420,360,450,390,330,410,460,380,320,400,440,370,300,380,430,470,390,340,410,450,380,320,390,440,400,350,280,370,430,460,390,340,400,450,380,320,370,430,470,400,350,410,440,380,300,360,420,460,390,340,400,440,380,330,390,450,410,350,300,380,430,390,340,400,445,390,350,410],
  [420,470,400,450,485,430,380,460,480,420,470,440,390,460,485,430,470,400,450,480,420,370,440,470,410,460,485,430,390,450,480,420,470,440,400,460,485,430,380,450,475,420,460,485,440,400,470,450,420,480,440,390,460,480,425,470,445,400,460,485,430,470,410,450,480,420,465,440,400,460],
  [250,330,290,360,310,260,340,390,330,270,310,370,300,240,320,380,340,280,330,390,350,290,250,320,370,330,270,310,380,340,290,330,390,350,280,240,310,370,330,270,320,380,340,300,350,400,350,290,260,320,380,340,290,330,390,350,300,340,380,330,280,320,370,340,300,350,390,340,300,330],
];
const D_SMOOTH = [
  [0,52,96,124,127,141,145,161,159,169,170,178,177,182,183,193,195,210,201,213,211,221,210,225,224,217,231,229,241,241,253,253,245,246,236,240,229,229,227,222],
  [0,17,20,33,32,43,41,51,49,58,57,61,61,71,71,83,83,95,97,101,101,99,99,111,97,109,95,107,107,109,97,99,99,101,103,115,105,103,101,110],
  [0,15,15,27,25,37,35,39,39,49,41,53,51,55,55,65,63,75,67,79,77,81,81,85,85,89,89,93,91,95,93,97,95,99,97,101,99,103,101,102],
  [0,13,13,23,23,33,25,37,35,39,37,47,39,49,47,51,49,59,51,61,59,63,61,71,63,73,71,75,73,83,75,85,83,87,85,95,87,97,93,95],
  [0,16,16,20,20,29,21,32,29,33,32,41,33,44,41,45,44,53,45,56,53,57,56,65,57,68,65,69,68,77,69,80,77,81,80,89,81,90,83,88],
  [0,14,14,23,15,26,23,27,25,34,26,36,33,37,35,44,36,46,43,47,45,54,46,56,53,57,55,64,56,66,63,67,65,74,66,76,73,81,77,82],
  [0,12,11,20,12,23,19,24,22,30,23,33,29,34,32,40,33,43,39,44,42,50,43,53,49,54,52,60,53,63,59,64,62,70,63,73,69,74,71,76],
  [0,15,13,19,17,24,18,27,23,28,26,34,27,36,30,37,34,41,37,44,39,46,43,51,45,54,50,55,53,60,54,63,59,64,61,69,62,71,66,70],
  [0,13,12,21,13,23,16,26,22,27,24,32,25,34,28,35,31,38,32,42,36,43,40,48,41,50,44,51,49,56,50,58,52,59,56,64,57,66,62,66],
  [0,16,14,19,15,21,15,27,20,29,22,32,25,34,28,36,31,41,34,43,36,42,39,47,41,49,44,50,47,54,50,56,53,59,55,58,58,61,58,62],
  [0,11,9,18,11,20,13,22,17,23,20,25,22,30,23,32,25,34,30,35,32,38,34,42,35,44,37,46,42,47,44,50,46,54,47,56,49,58,54,58],
  [0,14,11,16,13,18,15,20,17,25,18,27,20,29,22,31,27,32,29,35,31,36,33,41,34,43,36,45,38,47,43,48,45,51,47,52,49,54,50,54],
  [0,12,10,15,12,17,14,19,16,21,14,24,17,26,19,28,21,26,26,29,28,31,30,34,29,36,32,38,34,40,36,38,40,41,43,43,45,47,49,50],
  [0,15,11,18,14,16,15,21,17,19,16,22,18,23,21,25,22,27,24,25,23,28,25,30,28,31,27,34,30,32,29,34,31,37,34,38,38,41,43,45],
  [0,10,8,14,10,15,11,17,13,19,15,17,15,20,16,22,18,23,21,21,22,24,25,26,24,28,25,30,27,28,28,31,30,33,33,35,36,37,38,40],
  [0,13,10,13,11,15,11,16,13,15,15,17,15,18,18,19,17,20,19,22,20,21,21,23,21,24,22,23,25,24,27,26,25,28,28,30,31,32,33,34],
  [0,9,7,11,9,12,10,13,11,12,13,14,12,15,14,16,15,16,15,18,16,17,17,19,17,20,18,19,20,20,19,21,21,22,22,23,23,24,25,26],
  [0,3,4,4,5,4,5,5,5,6,5,6,6,5,6,6,6,7,6,6,7,6,7,7,6,7,7,7,6,7,7,7,6,7,7,6,7,7,6,6],
];

const PANELS = [
  { title: TITLES[0], step: A_STEP, smooth: A_SMOOTH, left: 43, top: 41 },
  { title: TITLES[1], step: B_STEP, smooth: B_SMOOTH, left: 660, top: 41 },
  { title: TITLES[2], step: C_STEP, smooth: C_SMOOTH, left: 43, top: 441 },
  { title: TITLES[3], step: D_STEP, smooth: D_SMOOTH, left: 660, top: 441 },
];

const PW = 543;
const PH = 319;
const LABEL_FONT = 'Liberation Sans, Arial, Helvetica, sans-serif';
const TITLE_FONT = 'DejaVu Serif, serif';

type Pt = [number, number];

// samples are spread evenly over 0..3000 iterations
function toPoints(vals: number[], isStep: boolean): Pt[] {
  const dt = X_MAX / (vals.length - 1);
  const pts: Pt[] = vals.map((v, i) => [i * dt, v * UNIT]);
  return isStep ? [[0, 0], ...pts] : pts;
}

function Panel({ p, idx }: { p: any; idx: number }) {
  const x = d3.scaleLinear().domain([-105, 3100]).range([0, PW]);
  const y = d3.scaleLinear().domain([-0.0051, 0.05]).range([PH, 0]);

  const stepLine = d3.line<Pt>().x(d => x(d[0])).y(d => y(d[1])).curve(d3.curveStepAfter);
  const smoothLine = d3.line<Pt>().x(d => x(d[0])).y(d => y(d[1]));

  const xMinor = d3.range(100, 3000, 100).filter(v => v % 500 !== 0);
  const yMinor = d3.range(-2, 25).filter(k => k % 5 !== 0).map(k => k * 0.002);
  const clipId = 'clip' + idx;

  return (
    <g transform={`translate(${p.left},${p.top})`}>
      <text x={-33} y={-18} fontFamily={TITLE_FONT} fontSize={16} fill="#111">
        {p.title}
      </text>
      <defs>
        <clipPath id={clipId}>
          <rect x={0} y={0} width={PW} height={PH} />
        </clipPath>
      </defs>
      <g clipPath={`url(#${clipId})`} fill="none" stroke="#000" strokeWidth={1} strokeOpacity={0.85}>
        {p.smooth.map((s: number[], i: number) => (
          <path key={'s' + i} d={smoothLine(toPoints(s, false)) || ''} />
        ))}
        {p.step.map((s: number[], i: number) => (
          <path key={'t' + i} d={stepLine(toPoints(s, true)) || ''} />
        ))}
      </g>
      <rect x={0} y={0} width={PW} height={PH} fill="none" stroke="#000" strokeWidth={1.6} />
      <g stroke="#000" strokeWidth={1.2}>
        {X_TICKS.map(t => (
          <line key={'xm' + t} x1={x(t)} x2={x(t)} y1={PH} y2={PH - 8} />
        ))}
        {xMinor.map(t => (
          <line key={'xn' + t} x1={x(t)} x2={x(t)} y1={PH} y2={PH - 4} />
        ))}
        {Y_TICKS.map(t => (
          <line key={'ym' + t} x1={0} x2={9} y1={y(t)} y2={y(t)} />
        ))}
        {yMinor.map(t => (
          <line key={'yn' + t} x1={0} x2={4} y1={y(t)} y2={y(t)} />
        ))}
      </g>
      <g fontFamily={LABEL_FONT} fontSize={11} fill="#111" letterSpacing={0.5}>
        {X_TICKS.map(t => (
          <text key={'xl' + t} x={x(t)} y={PH + 16} textAnchor="middle">{String(t)}</text>
        ))}
        {Y_TICKS.map((t, i) => (
          <text key={'yl' + t} x={-7} y={y(t)} dy="0.35em" textAnchor="end">{Y_LABELS[i]}</text>
        ))}
      </g>
    </g>
  );
}

export default function App() {
  return (
    <svg width={W} height={H} style={{ position: 'fixed', left: 0, top: 0 }}>
      <rect x={0} y={0} width={W} height={H} fill="#f0ffff" />
      {PANELS.map((p, i) => (
        <Panel key={i} p={p} idx={i} />
      ))}
    </svg>
  );
}
